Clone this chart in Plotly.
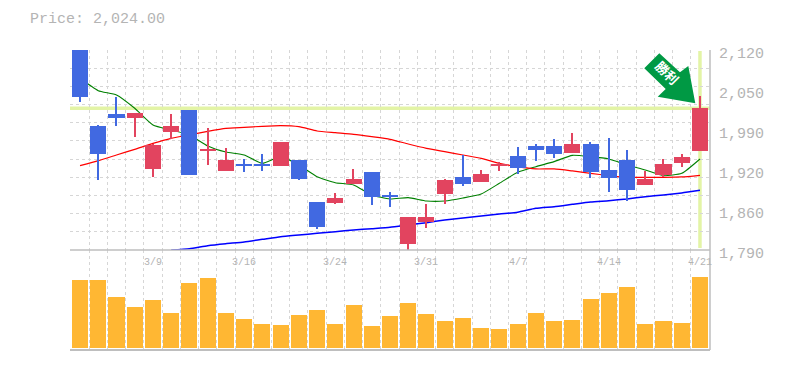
import plotly.graph_objects as go

# Price data
open_ = [2120,1994.6,2014.4,2007.8,1923.7,1984.7,2021,1953.9,1920.4,1931.9,1930.3,1928.6,1938.5,1869.2,1867.6,1898.9,1918.7,1880.8,1799.9,1836.2,1882.4,1910.5,1902.2,1928.6,1945.1,1961.6,1961.6,1950,1964.9,1922,1938.5,1897.3,1913.8,1933.6,1953.4]
close = [2043,1948.4,2007.8,2016,1963.3,1994.6,1913.8,1955.6,1938.5,1928.6,1928.6,1968.2,1907.2,1828,1875.8,1907.2,1877.5,1877.5,1844.5,1844.5,1905.5,1898.9,1915.4,1931.9,1925.3,1955,1948.4,1964.9,1918.7,1908.8,1889,1907.2,1931.9,1943.5,2024]
high = [2120,1996.2,2043,2016,1964.9,2014.4,2021,1991.3,1958.3,1940.2,1948.4,1968.2,1938.5,1869.2,1884.1,1923.7,1918.7,1885.7,1844.5,1865.9,1907.2,1946.8,1922,1935.2,1960,1964.9,1973.2,1983.1,1968.2,1974.8,1955,1920.4,1940.2,1948.4,2044.1]
low = [2034.8,1906.1,1994.6,1976.5,1910.5,1973.2,1913.8,1930.3,1920.4,1918.7,1920.4,1928.6,1905.5,1824.7,1865.9,1898.9,1864.3,1861,1788.4,1826.3,1865.9,1895.6,1902.2,1920.4,1915.4,1936.9,1941.8,1950,1908.8,1885.7,1870.9,1897.3,1910.5,1926.9,1953.4]
ma_green = [2073.3,2052.9,2045.8,2023.8,1996.3,1988,1979.8,1961.6,1951.7,1946.8,1933,1944,1930.3,1911,1901.1,1897.3,1880.8,1874.2,1876.4,1870.9,1870.9,1875.8,1882.4,1900,1918.2,1927.5,1935.8,1946.2,1944,1940.2,1930.3,1922,1912.7,1916.5,1940.2]
ma_red = [1929.2,1937.4,1946.8,1956.1,1966,1974.3,1979.8,1985.8,1990.8,1992.4,1994.1,1995.2,1993.5,1986.4,1983.6,1980.9,1977,1972.6,1964.9,1957.8,1952.3,1946.8,1941.3,1933,1927.5,1923.7,1923.7,1920.4,1916.5,1912.7,1909.9,1909.9,1909.9,1910.5,1913.2]
ma_blue = [None,None,None,None,None,1790,1792.2,1797.2,1800.5,1803.2,1807.6,1812,1814.8,1817.5,1820.3,1823,1825.2,1827.4,1831.3,1835.1,1839.5,1842.8,1846.1,1849.4,1852.2,1858.8,1861.5,1865.4,1869.2,1871.4,1874.2,1878,1880.8,1884.1,1888.5]
volume = [68,68,51,41,48,35,65,70,35,29,24,23,33,38,24,43,22,32,45,34,27,30,20,19,24,35,27,28,49,55,61,24,27,25,71]

tick_idx = [4,9,14,19,24,29,34]
tick_text = ["3/9","3/16","3/24","3/31","4/7","4/14","4/21"]
y_tickvals = [2120,2054,1988,1922,1856,1790]
y_ticktext = ["2,120","2,050","1,990","1,920","1,860","1,790"]
last_price = 2024
price_label = "Price: 2,024.00"
badge_text = "勝利"

idx = list(range(len(open_)))
RED = "#E2445F"
BLUE = "#4169E1"
GRID = "#D6D6D6"
AXIS = "#BEBEBE"
TXT = "#B4B4B4"
PALE = "#E3F4A6"
FONT = "Liberation Mono"

fig = go.Figure()
for vals, col, w in [(ma_green, "#008000", 1.1), (ma_red, "#FF0000", 1.2), (ma_blue, "#0000FF", 1.5)]:
    fig.add_trace(go.Scatter(x=idx, y=vals, mode="lines", line=dict(color=col, width=w, shape="spline", smoothing=0.5),
                             xaxis="x", yaxis="y", showlegend=False, hoverinfo="skip"))
body_base = [min(o, c) for o, c in zip(open_, close)]
body_size = [abs(c - o) for o, c in zip(open_, close)]
body_color = [RED if c >= o else BLUE for o, c in zip(open_, close)]
wick_size = [h - l for h, l in zip(high, low)]
fig.add_trace(go.Bar(x=idx, y=wick_size, base=low, marker=dict(color=body_color, line_width=0), width=0.07,
                     xaxis="x", yaxis="y3", showlegend=False, hoverinfo="skip"))
fig.add_trace(go.Bar(x=idx, y=body_size, base=body_base, marker=dict(color=body_color, line_width=0), width=0.88,
                     xaxis="x", yaxis="y3", showlegend=False, hoverinfo="skip"))
fig.add_trace(go.Bar(x=idx, y=volume, marker=dict(color="#FFB733", line_width=0), width=0.88,
                     xaxis="x2", yaxis="y2", showlegend=False, hoverinfo="skip"))

rng = [-0.55, 34.55]
common = dict(range=rng, tick0=-0.5, dtick=1, showgrid=True, gridcolor=GRID, griddash="3px,3px",
              gridwidth=1, zeroline=False, ticks="")
fig.update_layout(
    width=785, height=370, margin=dict(l=70, r=75, t=50, b=20, pad=0),
    paper_bgcolor="white", plot_bgcolor="white", bargap=0, barmode="overlay", showlegend=False,
    font=dict(family=FONT, color=TXT),
    xaxis=dict(anchor="y", showticklabels=False, **common),
    xaxis2=dict(anchor="y2", showticklabels=False, **common),
    yaxis=dict(domain=[1/3, 1], range=[1790, 2120], dtick=30, tick0=1790, showgrid=True, gridcolor=GRID,
               griddash="3px,3px", zeroline=False, showticklabels=False, ticks=""),
    yaxis2=dict(domain=[0, 1/3], range=[-2, 98], showgrid=False, zeroline=False, showticklabels=False, ticks=""),
    yaxis3=dict(overlaying="y", anchor="x", range=[1790, 2120], showgrid=False, zeroline=False,
                showticklabels=False, ticks=""),
)
# Axis frames
fig.add_shape(type="line", xref="paper", yref="paper", x0=0, x1=1, y0=1/3, y1=1/3, line=dict(color=AXIS, width=1.5), layer="above")
fig.add_shape(type="line", xref="paper", yref="paper", x0=0, x1=1, y0=0, y1=0, line=dict(color=AXIS, width=2), layer="above")
fig.add_shape(type="line", xref="paper", yref="paper", x0=1, x1=1, y0=0, y1=1, line=dict(color=AXIS, width=1.5), layer="above")
# Current price guides
fig.add_shape(type="line", xref="x domain", yref="y", x0=0, x1=1, y0=last_price, y1=last_price, line=dict(color=PALE, width=3.5), layer="below")
fig.add_shape(type="line", xref="x", yref="y domain", x0=34, x1=34, y0=0.01, y1=0.995, line=dict(color=PALE, width=3.5), layer="below")

# Arrow badge
def px(x, y):
    return (x - 70) / 640, (350 - y) / 300
pts = [(695.3,103.3),(688.3,66),(680,72.3),(659.3,53.3),(644.3,68.3),(665.7,89),(657.7,96.7)]
path = "M " + " L ".join(f"{px(*p)[0]:.4f} {px(*p)[1]:.4f}" for p in pts) + " Z"
fig.add_shape(type="path", xref="paper", yref="paper", path=path, fillcolor="#009944", line_width=0, layer="above")
x0, y0 = px(656, 64)
x1, y1 = px(676, 84)
fig.add_shape(type="rect", xref="paper", yref="paper", x0=x0, y0=y0, x1=x1, y1=y1, line_width=0,
              fillcolor="rgba(0,0,0,0)", layer="above",
              label=dict(text="<b>" + badge_text + "</b>", textangle=45, textposition="middle center",
                         font=dict(family="Noto Sans CJK JP", size=13, color="white")))

# Labels
for i, t in zip(tick_idx, tick_text):
    fig.add_annotation(xref="x", yref="paper", x=i, y=(350 - 262) / 300, text=t, showarrow=False,
                       font=dict(family=FONT, size=10, color=TXT), xanchor="center", yanchor="middle")
for v, t in zip(y_tickvals, y_ticktext):
    fig.add_annotation(xref="paper", yref="y", x=1, xshift=7, y=v, yshift=-4, text=t, showarrow=False,
                       font=dict(family=FONT, size=15, color=TXT), xanchor="left", yanchor="middle")
fig.add_annotation(xref="paper", yref="paper", x=-42/640, y=(350 - 19) / 300, text=price_label, showarrow=False,
                   font=dict(family=FONT, size=15, color=TXT), xanchor="left", yanchor="middle")

fig.write_html("out.html", config=dict(displayModeBar=False), post_script="document.body.style.margin='0';")
